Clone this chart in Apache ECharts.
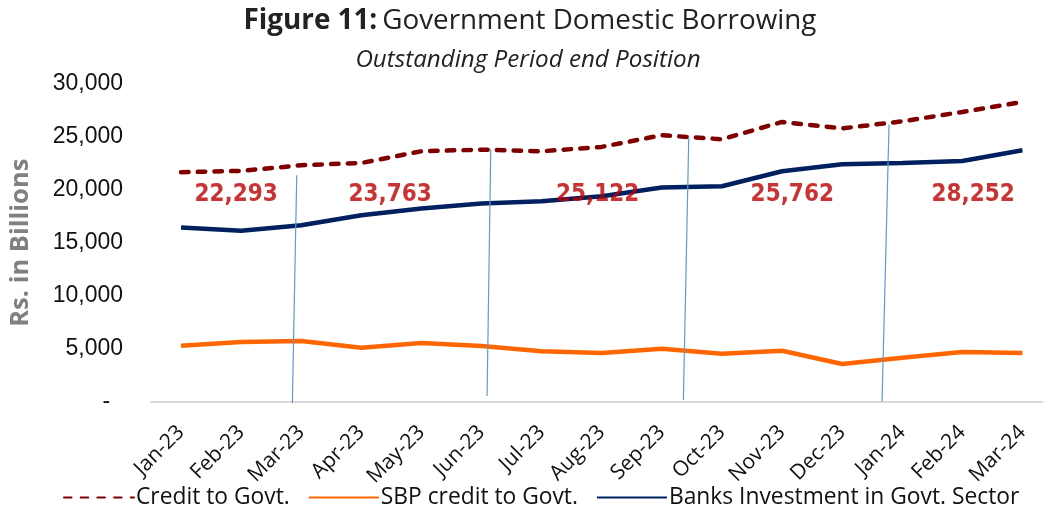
<!DOCTYPE html>
<html>
<head>
<meta charset="utf-8">
<script src="https://cdn.jsdelivr.net/npm/echarts@6/dist/echarts.min.js"></script>
<style>
html,body{margin:0;padding:0;background:#fff;}
#chart{width:1043px;height:518px;}
</style>
</head>
<body>
<div id="chart"></div>
<script>
// ---- data ----
const categories = ['Jan-23','Feb-23','Mar-23','Apr-23','May-23','Jun-23','Jul-23','Aug-23','Sep-23','Oct-23','Nov-23','Dec-23','Jan-24','Feb-24','Mar-24'];
const creditToGovt = [21640, 21760, 22293, 22510, 23610, 23763, 23610, 24020, 25122, 24740, 26370, 25762, 26430, 27310, 28252];
const sbpCredit = [5300, 5640, 5740, 5110, 5550, 5270, 4770, 4620, 5010, 4540, 4830, 3580, 4170, 4700, 4610];
const banksInvestment = [16430, 16120, 16650, 17590, 18220, 18690, 18910, 19380, 20200, 20320, 21730, 22390, 22510, 22700, 23710];
const quarterTotals = [22293, 23763, 25122, 25762, 28252];
const yTicks = [0, 5000, 10000, 15000, 20000, 25000, 30000];
// annotation placement (category-index units, value units)
const quarterLabelX = [0.915, 3.478, 6.933, 10.17, 13.18];
const quarterLabelY = 19470;
const separators = [
  [[1.925, 21355], [1.852, -94]],
  [[5.153, 23773], [5.092, 565]],
  [[8.448, 24958], [8.358, 188]],
  [[11.78, 26124], [11.664, 28]]
];

const sepData = [];
separators.forEach((s, i) => { sepData.push(s[0], s[1]); if (i < separators.length - 1) sepData.push('-'); });

const chart = echarts.init(document.getElementById('chart'), null, {renderer: 'canvas'});
const option = {
  backgroundColor: '#ffffff',
  animation: false,
  title: [
    {
      text: '{b|Figure 11:} {r|Government Domestic Borrowing}',
      left: 525, top: 2, textAlign: 'center',
      textStyle: {
        rich: {
          b: {fontFamily: 'Open Sans', fontWeight: 'bold', fontSize: 27.8, color: '#222'},
          r: {fontFamily: 'Open Sans', fontWeight: 'normal', fontSize: 27.8, color: '#222'}
        }
      }
    },
    {
      text: 'Outstanding Period end Position',
      left: 523, top: 43, textAlign: 'center',
      textStyle: {fontFamily: 'Open Sans', fontStyle: 'italic', fontWeight: 'normal', fontSize: 24.2, color: '#222'}
    }
  ],
  legend: {
    bottom: 4, left: 58,
    itemWidth: 70, itemHeight: 14, itemGap: 18,
    itemStyle: {opacity: 0},
    textStyle: {fontFamily: 'Open Sans', fontSize: 22.8, color: '#111', padding: [0,0,0,-3]},
    data: ['Credit to Govt.', 'SBP credit to Govt.', 'Banks Investment in Govt. Sector']
  },
  grid: {left: 151, top: 83.4, width: 901.5, height: 318.6, containLabel: false, outerBoundsMode: 'none'},
  xAxis: [
    {
      type: 'category', data: categories, boundaryGap: true,
      axisLine: {show: true, lineStyle: {color: '#d9d9d9', width: 2}},
      axisTick: {show: false},
      axisLabel: {rotate: 45, margin: 27, interval: 0, fontFamily: 'Open Sans', fontSize: 21, color: '#111'}
    },
    {
      type: 'value', min: -0.5, max: 14.5, show: false
    }
  ],
  yAxis: {
    type: 'value', min: 0, max: 30000, interval: 5000,
    name: 'Rs. in Billions', nameLocation: 'middle', nameRotate: 90, nameGap: 117,
    nameTextStyle: {fontFamily: 'Open Sans', fontWeight: 'bold', fontSize: 25.5, color: '#808080'},
    axisLine: {show: false}, axisTick: {show: false}, splitLine: {show: false},
    axisLabel: {
      margin: 28, fontFamily: 'Liberation Sans', fontSize: 23, color: '#111',
      formatter: v => v === 0 ? '-  ' : v.toLocaleString('en-US')
    }
  },
  series: [
    {
      name: 'Credit to Govt.', type: 'line', data: creditToGovt, symbol: 'none', z: 3,
      lineStyle: {color: '#800000', width: 4.5, type: [7.5, 9.2], cap: 'round'},
      itemStyle: {color: '#800000'}
    },
    {
      name: 'SBP credit to Govt.', type: 'line', data: sbpCredit, symbol: 'none', z: 3,
      lineStyle: {color: '#ff6600', width: 4.5},
      itemStyle: {color: '#ff6600'}
    },
    {
      name: 'Banks Investment in Govt. Sector', type: 'line', data: banksInvestment, symbol: 'none', z: 3,
      lineStyle: {color: '#002060', width: 4.5},
      itemStyle: {color: '#002060'}
    },
    {
      name: 'sep', type: 'line', xAxisIndex: 1, data: sepData, symbol: 'none', clip: false, z: 4,
      connectNulls: false, silent: true,
      lineStyle: {color: '#5b9bd5', width: 1.2}
    },
    {
      name: 'qlabels', type: 'scatter', xAxisIndex: 1, symbolSize: 0, z: 5, silent: true,
      data: quarterTotals.map((v, i) => [quarterLabelX[i], quarterLabelY, v]),
      label: {
        show: true, position: 'inside',
        formatter: p => p.value[2].toLocaleString('en-US'),
        fontFamily: 'DejaVu Sans Condensed', fontWeight: 'bold', fontSize: 24, color: '#bb0000'
      }
    }
  ]
};
chart.setOption(option);
</script>
</body>
</html>
